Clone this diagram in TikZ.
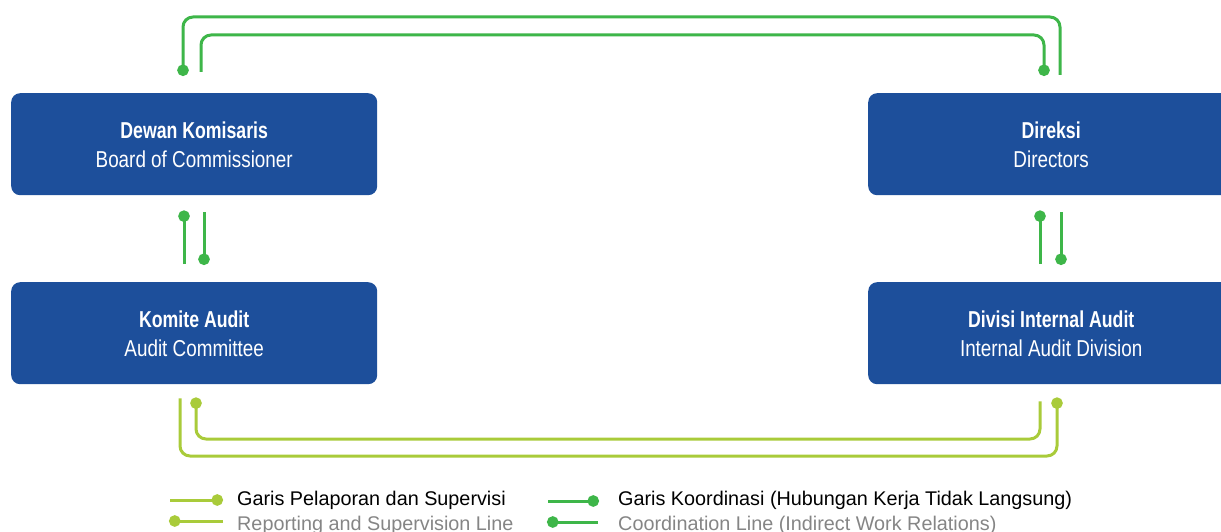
\documentclass[tikz,border=0pt]{standalone}
\usepackage{fontspec}
\setmainfont{Liberation Sans}
\newfontfamily\boxbold[FakeStretch=0.77]{Liberation Sans Bold}
\newfontfamily\boxreg[FakeStretch=0.82]{Liberation Sans}
\usetikzlibrary{calc,arrows.meta}
\definecolor{boxblue}{HTML}{1D4F9B}
\definecolor{cgreen}{HTML}{3EB649}
\definecolor{rlime}{HTML}{A9CB3A}
\definecolor{legrey}{HTML}{858585}
\tikzset{
  orgbox/.style={fill=boxblue, draw=none, rounded corners=9pt, minimum width=366pt, minimum height=102pt, inner sep=0pt, anchor=north west},
  boxtext/.style={text=white, align=center, font=\fontsize{23}{29}\selectfont, inner sep=0pt},
  coordline/.style={draw=cgreen, line width=3pt, rounded corners=10pt},
  repline/.style={draw=rlime, line width=3pt, rounded corners=10pt},
  dotend/.style={-{Circle[length=11.5pt,width=11.5pt]}},
  legtext/.style={anchor=base west, inner sep=0pt, font=\fontsize{19.8}{24}\selectfont},
}
\begin{document}
\begin{tikzpicture}[x=1pt,y=-1pt]
\useasboundingbox (0,0) rectangle (1221,532);
\clip (0,0) rectangle (1221,532);
% boxes
\node[orgbox] (dk) at (11,93) {};
\node[orgbox] (dr) at (868,93) {};
\node[orgbox] (ka) at (11,282) {};
\node[orgbox] (dia) at (868,282) {};
\node[boxtext] (dkt) at ($(dk.center)+(0,0.5)$) {{\boxbold Dewan Komisaris}\\{\boxreg Board of Commissioner}};
\node[boxtext] (drt) at ($(dr.center)+(0,0.5)$) {{\boxbold Direksi}\\{\boxreg Directors}};
\node[boxtext] (kat) at ($(ka.center)+(0,0.5)$) {{\boxbold Komite Audit}\\{\boxreg Audit Committee}};
\node[boxtext] (diat) at ($(dia.center)+(0,0.5)$) {{\boxbold Divisi Internal Audit}\\{\boxreg Internal Audit Division}};
% top coordination lines
\coordinate (toA) at ($(dr.north west)+(192,-18)$);
\coordinate (toB) at ($(dk.north west)+(172,-17)$);
\coordinate (toY) at (0,17);
\draw[coordline, dotend] (toA) -- (toA |- toY) -- (toB |- toY) -- (toB);
\coordinate (tiA) at ($(dk.north west)+(190,-21)$);
\coordinate (tiB) at ($(dr.north west)+(176,-17)$);
\coordinate (tiY) at (0,35);
\draw[coordline, dotend] (tiA) -- (tiA |- tiY) -- (tiB |- tiY) -- (tiB);
% vertical coordination lines, left
\coordinate (vl1a) at ($(ka.north west)+(173,-18)$);
\coordinate (vl1b) at ($(dk.south west)+(173,15)$);
\draw[coordline, dotend] (vl1a) -- (vl1b);
\coordinate (vl2a) at ($(dk.south west)+(193,17)$);
\coordinate (vl2b) at ($(ka.north west)+(193,-17)$);
\draw[coordline, dotend] (vl2a) -- (vl2b);
% vertical coordination lines, right
\coordinate (vr1a) at ($(dia.north west)+(172,-18)$);
\coordinate (vr1b) at ($(dr.south west)+(172,15)$);
\draw[coordline, dotend] (vr1a) -- (vr1b);
\coordinate (vr2a) at ($(dr.south west)+(193,17)$);
\coordinate (vr2b) at ($(dia.north west)+(193,-17)$);
\draw[coordline, dotend] (vr2a) -- (vr2b);
% bottom reporting lines
\coordinate (boA) at ($(ka.south west)+(169,14)$);
\coordinate (boB) at ($(dia.south west)+(189,13)$);
\coordinate (boY) at (0,456);
\draw[repline, dotend] (boA) -- (boA |- boY) -- (boB |- boY) -- (boB);
\coordinate (biA) at ($(dia.south west)+(172,17)$);
\coordinate (biB) at ($(ka.south west)+(185,13)$);
\coordinate (biY) at (0,439);
\draw[repline, dotend] (biA) -- (biA |- biY) -- (biB |- biY) -- (biB);
% legend
\coordinate (l1a) at (170,500);
\coordinate (l1b) at (223,500);
\draw[repline, dotend] (l1a) -- (l1b);
\coordinate (l2a) at (223,521);
\coordinate (l2b) at (169,521);
\draw[repline, dotend] (l2a) -- (l2b);
\node[legtext, text=black] (lg1) at (237,505) {Garis Pelaporan dan Supervisi};
\node[legtext, text=legrey] (lg2) at (237,530) {Reporting and Supervision Line};
\coordinate (l3a) at (548,501);
\coordinate (l3b) at (599,501);
\draw[coordline, dotend] (l3a) -- (l3b);
\coordinate (l4a) at (598,522);
\coordinate (l4b) at (547,522);
\draw[coordline, dotend] (l4a) -- (l4b);
\node[legtext, text=black] (lg3) at (618,505) {Garis Koordinasi (Hubungan Kerja Tidak Langsung)};
\node[legtext, text=legrey] (lg4) at (618,530) {Coordination Line (Indirect Work Relations)};
\end{tikzpicture}
\end{document}
